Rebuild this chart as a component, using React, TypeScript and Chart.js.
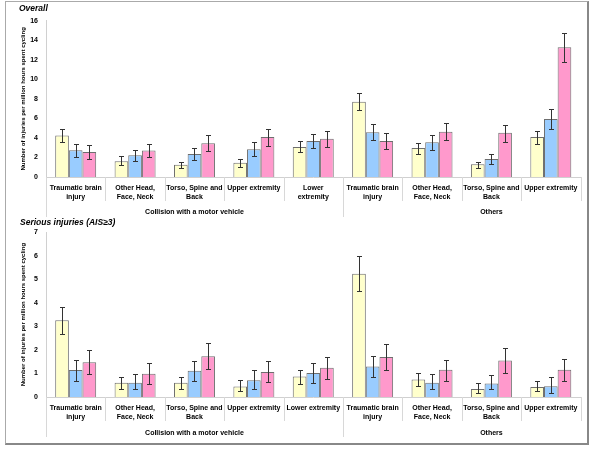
import React, { useEffect, useRef } from 'react';
import { Chart, registerables } from 'chart.js';
Chart.register(...registerables);

// ---- categories & groups ----
const overallCategories = [
  ['Traumatic brain', 'injury'], ['Other Head,', 'Face, Neck'], ['Torso, Spine and', 'Back'], ['Upper extremity'], ['Lower', 'extremity'],
  ['Traumatic brain', 'injury'], ['Other Head,', 'Face, Neck'], ['Torso, Spine and', 'Back'], ['Upper extremity'],
];
const seriousCategories = [
  ['Traumatic brain', 'injury'], ['Other Head,', 'Face, Neck'], ['Torso, Spine and', 'Back'], ['Upper extremity'], ['Lower extremity'],
  ['Traumatic brain', 'injury'], ['Other Head,', 'Face, Neck'], ['Torso, Spine and', 'Back'], ['Upper extremity'],
];
const groupNames = ['Collision with a motor vehicle', 'Others'];
const groupSizes = [5, 4];
const groupLabelAt = [2, 7];
const seriesNames = ['Series 1', 'Series 2', 'Series 3'];

// ---- Overall ----
const overallYellow = [4.26, 1.6, 1.26, 1.47, 3.07, 7.71, 2.97, 1.3, 4.09];
const overallYellowLow = [3.55, 1.19, 0.89, 1.06, 2.52, 6.82, 2.39, 0.89, 3.41];
const overallYellowHigh = [4.91, 2.12, 1.57, 1.88, 3.65, 8.56, 3.51, 1.57, 4.67];
const overallBlue = [2.73, 2.22, 2.35, 2.83, 3.68, 4.57, 3.55, 1.84, 5.94];
const overallBlueLow = [2.05, 1.6, 1.71, 2.15, 2.93, 3.75, 2.76, 1.3, 4.95];
const overallBlueHigh = [3.41, 2.8, 2.97, 3.55, 4.4, 5.46, 4.26, 2.39, 6.93];
const overallPink = [2.56, 2.7, 3.45, 4.09, 3.92, 3.68, 4.64, 4.54, 13.27];
const overallPinkLow = [1.88, 2.05, 2.66, 3.21, 3.07, 2.9, 3.75, 3.62, 11.74];
const overallPinkHigh = [3.24, 3.41, 4.26, 4.91, 4.74, 4.54, 5.49, 5.36, 14.77];

// ---- Serious injuries ----
const seriousYellow = [3.26, 0.6, 0.61, 0.45, 0.87, 5.24, 0.74, 0.34, 0.43];
const seriousYellowLow = [2.67, 0.34, 0.35, 0.25, 0.54, 4.5, 0.46, 0.18, 0.27];
const seriousYellowHigh = [3.83, 0.87, 0.87, 0.71, 1.15, 5.97, 1.02, 0.6, 0.7];
const seriousBlue = [1.15, 0.61, 1.12, 0.71, 1.02, 1.3, 0.6, 0.57, 0.46];
const seriousBlueLow = [0.7, 0.32, 0.68, 0.32, 0.6, 0.84, 0.32, 0.32, 0.18];
const seriousBlueHigh = [1.56, 0.99, 1.52, 1.15, 1.44, 1.75, 0.99, 0.95, 0.85];
const seriousPink = [1.48, 0.99, 1.73, 1.06, 1.24, 1.7, 1.16, 1.55, 1.16];
const seriousPinkLow = [0.98, 0.57, 1.19, 0.63, 0.78, 1.16, 0.7, 1.03, 0.7];
const seriousPinkHigh = [1.98, 1.44, 2.29, 1.51, 1.7, 2.24, 1.58, 2.07, 1.62];

const yTitle = 'Number of injuries per million hours spent cycling';
const colors = ['#FFFFCC', '#99CCFF', '#FF99CC'];
const FONT = '"Liberation Sans", Arial, sans-serif';

const errorBarPlugin = {
  id: 'errorBars',
  afterDatasetsDraw(chart: any) {
    const { ctx } = chart;
    const y = chart.scales.y;
    chart.data.datasets.forEach((ds: any, i: number) => {
      const meta = chart.getDatasetMeta(i);
      meta.data.forEach((bar: any, j: number) => {
        const lo = Math.round(y.getPixelForValue(ds.errLow[j])) + 0.5;
        const hi = Math.round(y.getPixelForValue(ds.errHigh[j])) + 0.5;
        const x = Math.round(bar.x) + 0.5;
        ctx.save();
        ctx.strokeStyle = '#333';
        ctx.lineWidth = 1;
        ctx.beginPath();
        ctx.moveTo(x, lo); ctx.lineTo(x, hi);
        ctx.moveTo(x - 2.5, hi); ctx.lineTo(x + 2.5, hi);
        ctx.moveTo(x - 2.5, lo); ctx.lineTo(x + 2.5, lo);
        ctx.stroke();
        ctx.restore();
      });
    });
  },
};

const groupAxisPlugin = {
  id: 'groupAxis',
  afterDraw(chart: any, _args: any, opts: any) {
    const { ctx, chartArea } = chart;
    const x = chart.scales.x;
    const n = chart.data.labels.length;
    const starts = new Set<number>();
    let acc = 0;
    groupSizes.forEach((s) => { starts.add(acc); acc += s; });
    ctx.save();
    ctx.strokeStyle = '#d8d8d8';
    ctx.lineWidth = 1;
    for (let b = 0; b <= n; b++) {
      let px = b === 0 ? chartArea.left : b === n ? chartArea.right : (x.getPixelForValue(b - 1) + x.getPixelForValue(b)) / 2;
      px = Math.round(px) + 0.5;
      const len = starts.has(b) ? opts.longLen : opts.shortLen;
      ctx.beginPath();
      ctx.moveTo(px, chartArea.bottom);
      ctx.lineTo(px, chartArea.bottom + len);
      ctx.stroke();
    }
    ctx.fillStyle = '#000';
    ctx.font = `bold 7px ${FONT}`;
    ctx.textAlign = 'center';
    ctx.textBaseline = 'middle';
    groupNames.forEach((g, i) => {
      ctx.fillText(g, x.getPixelForValue(groupLabelAt[i]), chartArea.bottom + opts.labelOffset);
    });
    ctx.restore();
  },
};

function makeConfig(p: any) {
  return {
    type: 'bar',
    data: {
      labels: p.categories,
      datasets: p.values.map((v: number[], i: number) => ({
        label: seriesNames[i],
        data: v,
        errLow: p.lows[i],
        errHigh: p.highs[i],
        backgroundColor: colors[i],
        borderColor: '#6e6e6e',
        borderWidth: 1,
        categoryPercentage: 0.69,
        barPercentage: 1,
      })),
    },
    options: {
      responsive: false,
      animation: false,
      devicePixelRatio: 1,
      layout: { padding: { top: p.padTop, right: 19.5, bottom: 0, left: 0 } },
      plugins: {
        legend: { display: false },
        tooltip: { enabled: false },
        groupAxis: { longLen: 40, shortLen: 24, labelOffset: p.groupOffset },
      },
      scales: {
        x: {
          grid: { display: false, drawTicks: false },
          border: { color: '#d0d0d0' },
          ticks: {
            color: '#000',
            font: { family: FONT, size: 7, weight: 'bold', lineHeight: 1.33 },
            padding: 6,
            maxRotation: 0,
            autoSkip: false,
          },
          afterFit: (s: any) => { s.height = p.xHeight; },
        },
        y: {
          min: 0,
          max: p.max,
          grid: { display: false, drawTicks: false },
          border: { color: '#d0d0d0' },
          ticks: {
            stepSize: 1 * p.step,
            color: '#000',
            font: { family: FONT, size: 7, weight: 'bold' },
            padding: 8,
          },
          title: {
            display: true,
            text: yTitle,
            color: '#000',
            font: { family: FONT, size: 6, weight: 'bold' },
            padding: { top: 19.4, bottom: 0 },
          },
          afterFit: (s: any) => { s.width = 46; },
        },
      },
    },
    plugins: [errorBarPlugin, groupAxisPlugin],
  };
}

const overallPanel = {
  categories: overallCategories,
  values: [overallYellow, overallBlue, overallPink],
  lows: [overallYellowLow, overallBlueLow, overallPinkLow],
  highs: [overallYellowHigh, overallBlueHigh, overallPinkHigh],
  max: 16, step: 2, padTop: 20.7, xHeight: 43, groupOffset: 34.7,
};
const seriousPanel = {
  categories: seriousCategories,
  values: [seriousYellow, seriousBlue, seriousPink],
  lows: [seriousYellowLow, seriousBlueLow, seriousPinkLow],
  highs: [seriousYellowHigh, seriousBlueHigh, seriousPinkHigh],
  max: 7, step: 1, padTop: 10, xHeight: 48, groupOffset: 36.3,
};

function Panel({ panel, top, height }: { panel: any; top: number; height: number }) {
  const ref = useRef<HTMLCanvasElement>(null);
  useEffect(() => {
    if (!ref.current) return;
    const chart = new Chart(ref.current, makeConfig(panel) as any);
    return () => chart.destroy();
  }, [panel]);
  return (
    <canvas
      ref={ref}
      width={600}
      height={height}
      style={{ position: 'absolute', left: 0, top, width: 600, height }}
    />
  );
}

const titleStyle: React.CSSProperties = {
  position: 'absolute',
  left: 19,
  fontFamily: FONT,
  fontWeight: 'bold',
  fontStyle: 'italic',
  fontSize: '8.5px',
  lineHeight: '10px',
  color: '#000',
  whiteSpace: 'nowrap',
};

export default function App() {
  return (
    <div style={{ position: 'absolute', left: 0, top: 0, width: 600, height: 455, background: '#fff', overflow: 'hidden' }}>
      <div
        style={{
          position: 'absolute', left: 5, top: 1, width: 584, height: 444, boxSizing: 'border-box',
          borderTop: '1px solid #aaa', borderLeft: '1px solid #aaa', borderRight: '2px solid #888', borderBottom: '2px solid #888',
        }}
      />
      <Panel panel={overallPanel} top={0} height={220} />
      <Panel panel={seriousPanel} top={220} height={225} />
      <div style={{ ...titleStyle, top: 3 }}>Overall</div>
      <div style={{ ...titleStyle, top: 217, left: 20 }}>Serious injuries (AIS≥3)</div>
    </div>
  );
}
